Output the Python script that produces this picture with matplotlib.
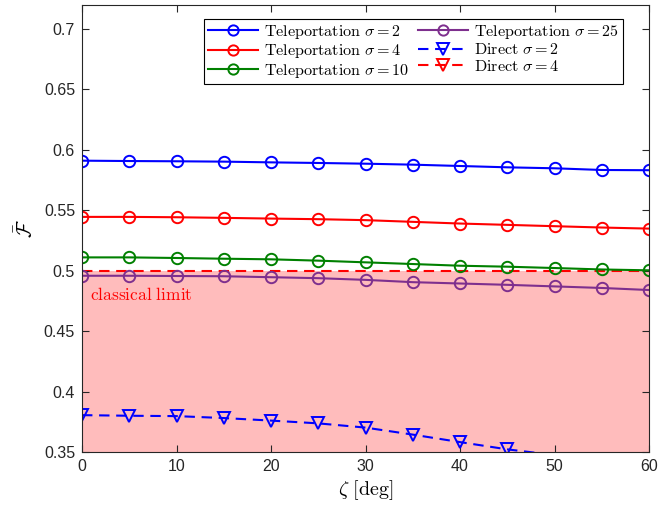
import matplotlib
matplotlib.use("Agg")
import matplotlib.pyplot as plt

plt.rcParams["mathtext.fontset"] = "cm"
plt.rcParams["font.family"] = ["Liberation Sans", "DejaVu Sans"]

# Rotation angle zeta in degrees
zeta = [0, 5, 10, 15, 20, 25, 30, 35, 40, 45, 50, 55, 60]

# Average fidelity via teleportation for several sigma values
tele_s2 = [0.5910, 0.5907, 0.5905, 0.5902, 0.5896, 0.5891, 0.5885,
           0.5877, 0.5866, 0.5855, 0.5847, 0.5833, 0.5831]
tele_s4 = [0.5445, 0.5445, 0.5442, 0.5437, 0.5431, 0.5426, 0.5418,
           0.5404, 0.5390, 0.5379, 0.5368, 0.5357, 0.5348]
tele_s10 = [0.5110, 0.5110, 0.5105, 0.5099, 0.5094, 0.5083, 0.5069,
            0.5055, 0.5041, 0.5033, 0.5022, 0.5010, 0.5003]
tele_s25 = [0.4958, 0.4958, 0.4956, 0.4954, 0.4946, 0.4938, 0.4924,
            0.4905, 0.4894, 0.4883, 0.4870, 0.4857, 0.4840]

# Direct transmission (sigma = 2); the sigma = 4 curve lies below the shown range
direct_zeta = [0, 5, 10, 15, 20, 25, 30, 35, 40, 45, 50]
direct_s2 = [0.3805, 0.3800, 0.3797, 0.3781, 0.3760, 0.3737, 0.3702,
             0.3644, 0.3582, 0.3522, 0.3475]

classical_limit = 0.5
y_min, y_max = 0.35, 0.72

purple = (0.494, 0.184, 0.556)
green = (0.0, 0.5, 0.0)

fig = plt.figure(figsize=(6.7, 5.08), dpi=100)
ax = fig.add_axes([0.1224, 0.1102, 0.8463, 0.8805])

ax.axhspan(0.3, classical_limit, color="#ffbcbc", zorder=0, lw=0)
ax.axhline(classical_limit, color="red", ls=(0, (5, 3.2)), lw=1.5, zorder=1)
ax.text(0.8, 0.4805, r"$\mathrm{classical\ limit}$", color="red",
        fontsize=12.5, va="center", ha="left")

lw = 1.5
ms = 8.2
mew = 1.4
ax.plot(zeta, tele_s2, "-o", color="blue", lw=lw, ms=ms, mew=mew, mfc="none",
        label=r"$\mathrm{Teleportation}\ \sigma = 2$")
ax.plot(zeta, tele_s4, "-o", color="red", lw=lw, ms=ms, mew=mew, mfc="none",
        label=r"$\mathrm{Teleportation}\ \sigma = 4$")
ax.plot(zeta, tele_s10, "-o", color=green, lw=lw, ms=ms, mew=mew, mfc="none",
        label=r"$\mathrm{Teleportation}\ \sigma = 10$")
ax.plot(zeta, tele_s25, "-o", color=purple, lw=lw, ms=ms, mew=mew, mfc="none",
        label=r"$\mathrm{Teleportation}\ \sigma = 25$")
# markers only where the point lies inside the visible range
visible = [i for i, v in enumerate(direct_s2) if v >= y_min]
ax.plot(direct_zeta, direct_s2, "--v", color="blue", lw=lw, ms=9, mew=mew,
        mfc="none", dashes=(5, 3.2), markevery=visible,
        label=r"$\mathrm{Direct}\ \sigma = 2$")
ax.plot([], [], "--v", color="red", lw=lw, ms=9, mew=mew, mfc="none",
        dashes=(5, 3.2), label=r"$\mathrm{Direct}\ \sigma = 4$")

ax.set_xlim(0, 60)
ax.set_ylim(y_min, y_max)
ax.set_xticks(range(0, 61, 10))
ax.set_yticks([0.35, 0.4, 0.45, 0.5, 0.55, 0.6, 0.65, 0.7])
ax.set_yticklabels(["0.35", "0.4", "0.45", "0.5", "0.55", "0.6", "0.65", "0.7"])
ax.tick_params(direction="in", top=True, right=True, length=5, width=0.8,
               labelsize=11.5, colors=(0.15, 0.15, 0.15), pad=5)
for sp in ax.spines.values():
    sp.set_color((0.15, 0.15, 0.15))
    sp.set_linewidth(0.8)

ax.set_xlabel(r"$\zeta\ [\mathrm{deg}]$", fontsize=14.5, labelpad=3)
ax.set_ylabel(r"$\bar{\mathcal{F}}$", fontsize=14.5, labelpad=5)

leg = ax.legend(ncol=2, loc="upper right", bbox_to_anchor=(0.954, 0.968),
                fontsize=11.6, frameon=True, fancybox=False, edgecolor="black",
                framealpha=1, handlelength=3.1, handletextpad=0.35,
                columnspacing=0.6, borderpad=0.25, labelspacing=0.08,
                borderaxespad=0, markerscale=0.9)
leg.get_frame().set_linewidth(0.8)

fig.savefig("out.png", dpi=100)
